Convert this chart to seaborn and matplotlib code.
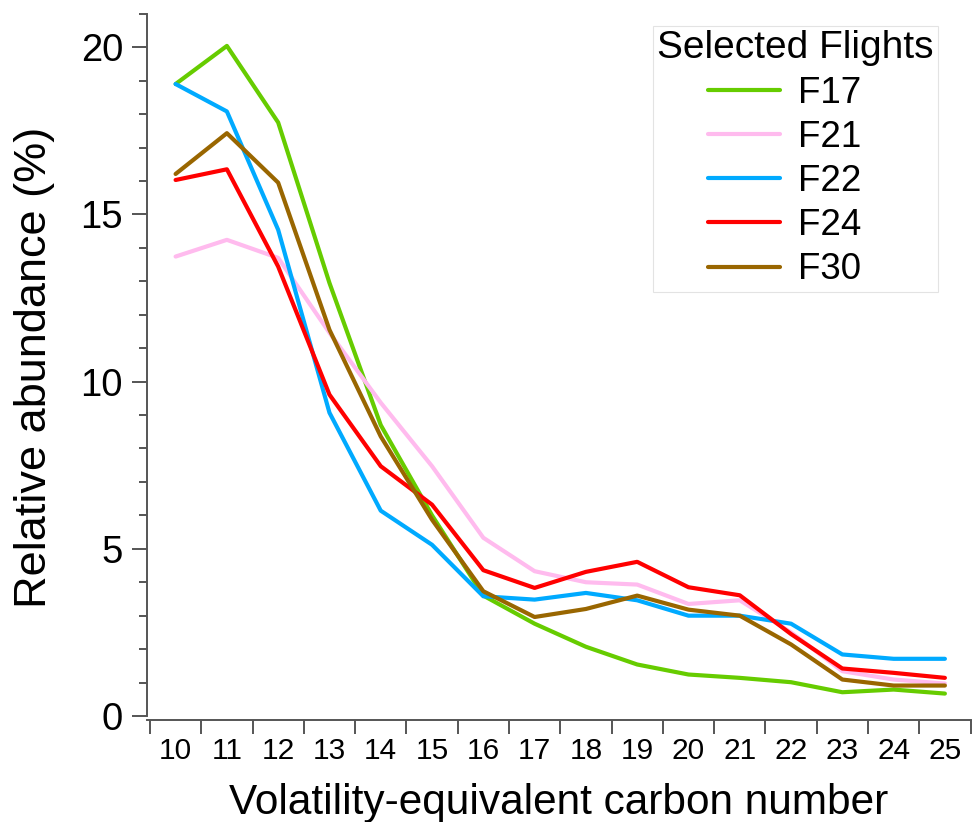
import numpy as np
import pandas as pd
import matplotlib
matplotlib.use("Agg")
import matplotlib.pyplot as plt
from matplotlib.lines import Line2D
import seaborn as sns

carbon = [10, 11, 12, 13, 14, 15, 16, 17, 18, 19, 20, 21, 22, 23, 24, 25]
f17 = [18.9, 20.04, 17.75, 12.95, 8.7, 6.0, 3.6, 2.76, 2.07, 1.54, 1.24, 1.14, 1.01, 0.71, 0.79, 0.67]
f21 = [13.74, 14.24, 13.7, 11.46, 9.37, 7.47, 5.33, 4.33, 4.0, 3.93, 3.35, 3.46, 2.5, 1.34, 1.09, 0.97]
f22 = [18.9, 18.08, 14.54, 9.07, 6.14, 5.12, 3.58, 3.48, 3.68, 3.46, 3.0, 3.0, 2.76, 1.84, 1.71, 1.71]
f24 = [16.03, 16.35, 13.44, 9.61, 7.47, 6.32, 4.36, 3.83, 4.31, 4.61, 3.85, 3.61, 2.45, 1.42, 1.29, 1.14]
f30 = [16.21, 17.43, 15.95, 11.55, 8.36, 5.87, 3.73, 2.96, 3.2, 3.6, 3.18, 3.0, 2.14, 1.09, 0.91, 0.91]
flights = ["F17", "F21", "F22", "F24", "F30"]
colors = ["#66CC00", "#FFBBEE", "#00AAFF", "#FF0000", "#996600"]

series = {"F17": f17, "F21": f21, "F22": f22, "F24": f24, "F30": f30}
df = pd.DataFrame([
    {"carbon": c, "value": v, "flight": name}
    for name in flights for c, v in zip(carbon, series[name])
])

sns.set_style("white")
plt.rcParams["font.family"] = ["Liberation Sans", "DejaVu Sans"]
plt.rcParams["text.color"] = "black"
plt.rcParams["axes.labelcolor"] = "black"
plt.rcParams["xtick.color"] = "black"
plt.rcParams["ytick.color"] = "black"

fig = plt.figure(figsize=(9.72, 8.22), dpi=100)
ax = fig.add_axes([0.1509, 0.1241, 0.8476, 0.8591])

sns.lineplot(data=df, x="carbon", y="value", hue="flight", hue_order=flights,
             palette=dict(zip(flights, colors)), linewidth=3.0, ax=ax,
             legend=False)

ax.set_xlim(9.436, 25.5)
ax.set_ylim(-0.12, 21)

spine_col = "#555555"
for s in ["top", "right"]:
    ax.spines[s].set_visible(False)
for s in ["left", "bottom"]:
    ax.spines[s].set_color(spine_col)
    ax.spines[s].set_linewidth(1.4)
ax.spines["left"].set_bounds(0, 21)

# x: boundary ticks at half-integers, labels at integers
ax.set_xticks(np.arange(9.5, 26, 1.0))
ax.set_xticklabels([])
ax.set_xticks(carbon, minor=True)
ax.set_xticklabels([str(c) for c in carbon], minor=True)
ax.tick_params(axis="x", which="major", bottom=True, length=10, width=1.4,
               color=spine_col, direction="out")
ax.tick_params(axis="x", which="minor", bottom=True, length=0, pad=12,
               labelsize=21.5, labelcolor="black")

ax.set_yticks([0, 5, 10, 15, 20])
ax.set_yticks(np.arange(0, 22, 1), minor=True)
ax.tick_params(axis="y", which="major", left=True, length=11, width=1.4,
               color=spine_col, direction="out", labelsize=27.5, pad=6,
               labelcolor="black")
ax.tick_params(axis="y", which="minor", left=True, length=5.5, width=1.4,
               color=spine_col, direction="out")

ax.set_xlabel("Volatility-equivalent carbon number", fontsize=30.5, labelpad=13)
ax.set_ylabel("Relative abundance (%)", fontsize=32.5, labelpad=18)

handles = [Line2D([], [], color=c, lw=3.0) for c in colors]
leg = ax.legend(handles, [f + "  " for f in flights], title="Selected Flights",
                fontsize=26.5, title_fontsize=28, loc="upper right",
                bbox_to_anchor=(938 / 972, 1 - 26 / 822), bbox_transform=fig.transFigure,
                frameon=True, fancybox=False, handlelength=1.95, handletextpad=0.5,
                labelspacing=0.25, borderpad=0.12, borderaxespad=0)
leg.get_frame().set_edgecolor("#dddddd")
leg.get_frame().set_linewidth(0.8)

fig.savefig("out.png", dpi=100)
